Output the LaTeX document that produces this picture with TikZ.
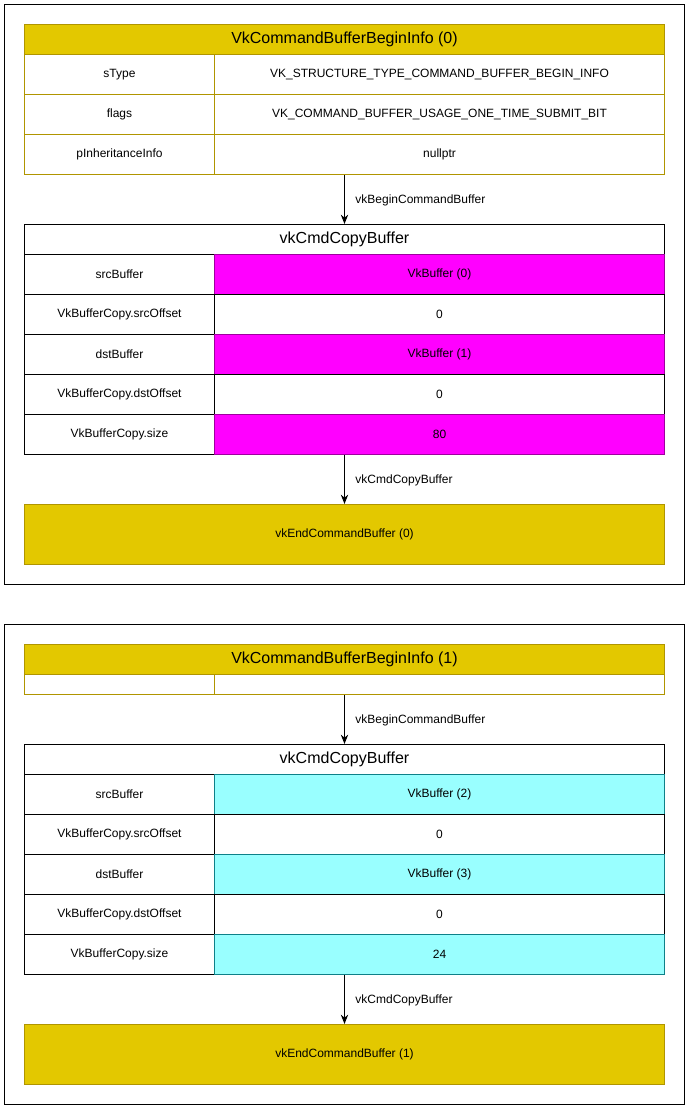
\documentclass[tikz,border=0pt]{standalone}
\usepackage{fontspec}
\setmainfont{Liberation Sans}
\usetikzlibrary{arrows.meta}
\definecolor{vkgold}{HTML}{E3C800}
\definecolor{vkgoldline}{HTML}{B09500}
\definecolor{vkmagenta}{HTML}{FF00FF}
\definecolor{vkmagline}{HTML}{9E009E}
\definecolor{vkcyan}{HTML}{99FFFF}
\definecolor{vkcyanline}{HTML}{0E8088}
\begin{document}
\begin{tikzpicture}[x=0.75pt,y=-0.75pt,line width=0.75pt,
	cell/.style={draw, anchor=north west, inner sep=0pt, font=\fontsize{9}{11}\selectfont},
	keycell/.style={cell, minimum width=142.5pt, minimum height=30pt},
	valcell/.style={cell, minimum width=337.5pt, minimum height=30pt},
	headcell/.style={cell, minimum width=480pt, minimum height=22.5pt, font=\fontsize{12}{14}\selectfont},
	gold/.style={fill=vkgold, draw=vkgoldline},
	goldrow/.style={fill=white, draw=vkgoldline},
	pink/.style={fill=vkmagenta, draw=vkmagline},
	aqua/.style={fill=vkcyan, draw=vkcyanline},
	flow/.style={-{Stealth[length=7pt,width=5.5pt]}, black},
	flowlabel/.style={right, xshift=4.5pt, yshift=-0.6pt, font=\fontsize{9}{11}\selectfont}]
	\useasboundingbox (0,0) rectangle (689,1110);
	% first command buffer
	\draw (4.5,4.5) rectangle (684,584);
	\node (info0) at (24, 24)	[headcell, gold]	{VkCommandBufferBeginInfo (0)};
	\node (stype0) at (24, 54)	[keycell, goldrow]	{sType};
	\node (stypev0) at (214, 54)	[valcell, goldrow]	{VK\_STRUCTURE\_TYPE\_COMMAND\_BUFFER\_BEGIN\_INFO};
	\node (flags0) at (24, 94)	[keycell, goldrow]	{flags};
	\node (flagsv0) at (214, 94)	[valcell, goldrow]	{VK\_COMMAND\_BUFFER\_USAGE\_ONE\_TIME\_SUBMIT\_BIT};
	\node (pinh0) at (24, 134)	[keycell, goldrow]	{pInheritanceInfo};
	\node (pinhv0) at (214, 134)	[valcell, goldrow]	{nullptr};
	\node (cmd0) at (24, 224)	[headcell]	{vkCmdCopyBuffer};
	\node (src0) at (24, 254)	[keycell]	{srcBuffer};
	\node (srcv0) at (214, 254)	[valcell, pink]	{VkBuffer (0)};
	\node (srcoff0) at (24, 294)	[keycell]	{VkBufferCopy.srcOffset};
	\node (srcoffv0) at (214, 294)	[valcell]	{0};
	\node (dst0) at (24, 334)	[keycell]	{dstBuffer};
	\node (dstv0) at (214, 334)	[valcell, pink]	{VkBuffer (1)};
	\node (dstoff0) at (24, 374)	[keycell]	{VkBufferCopy.dstOffset};
	\node (dstoffv0) at (214, 374)	[valcell]	{0};
	\node (size0) at (24, 414)	[keycell]	{VkBufferCopy.size};
	\node (sizev0) at (214, 414)	[valcell, pink]	{80};
	\node (end0) at (24, 504)	[headcell, gold, minimum height=45pt, font=\fontsize{9}{11}\selectfont]	{vkEndCommandBuffer (0)};
	\draw[flow] (info0.center |- pinhv0.south) -- node[flowlabel] {vkBeginCommandBuffer} (cmd0.north);
	\draw[flow] (cmd0.center |- sizev0.south) -- node[flowlabel] {vkCmdCopyBuffer} (end0.north);
	% second command buffer
	\draw (4.5,624) rectangle (684,1104);
	\node (info1) at (24, 644)	[headcell, gold]	{VkCommandBufferBeginInfo (1)};
	\node (blank1) at (24, 674)	[keycell, goldrow, minimum height=15pt]	{};
	\node (blankv1) at (214, 674)	[valcell, goldrow, minimum height=15pt]	{};
	\node (cmd1) at (24, 744)	[headcell]	{vkCmdCopyBuffer};
	\node (src1) at (24, 774)	[keycell]	{srcBuffer};
	\node (srcv1) at (214, 774)	[valcell, aqua]	{VkBuffer (2)};
	\node (srcoff1) at (24, 814)	[keycell]	{VkBufferCopy.srcOffset};
	\node (srcoffv1) at (214, 814)	[valcell]	{0};
	\node (dst1) at (24, 854)	[keycell]	{dstBuffer};
	\node (dstv1) at (214, 854)	[valcell, aqua]	{VkBuffer (3)};
	\node (dstoff1) at (24, 894)	[keycell]	{VkBufferCopy.dstOffset};
	\node (dstoffv1) at (214, 894)	[valcell]	{0};
	\node (size1) at (24, 934)	[keycell]	{VkBufferCopy.size};
	\node (sizev1) at (214, 934)	[valcell, aqua]	{24};
	\node (end1) at (24, 1024)	[headcell, gold, minimum height=45pt, font=\fontsize{9}{11}\selectfont]	{vkEndCommandBuffer (1)};
	\draw[flow] (info1.center |- blankv1.south) -- node[flowlabel] {vkBeginCommandBuffer} (cmd1.north);
	\draw[flow] (cmd1.center |- sizev1.south) -- node[flowlabel] {vkCmdCopyBuffer} (end1.north);
\end{tikzpicture}
\end{document}
